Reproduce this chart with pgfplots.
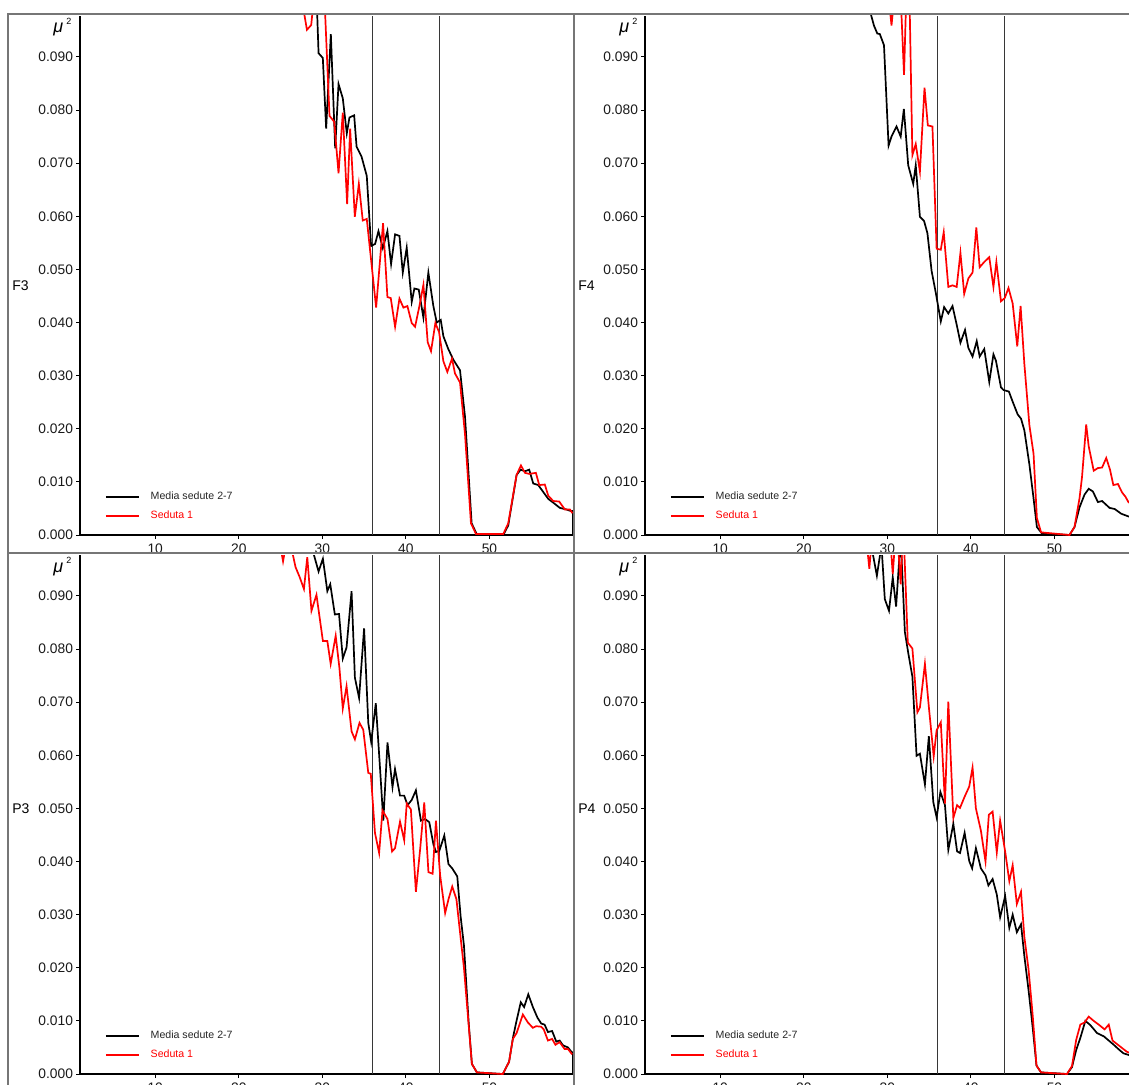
\documentclass[border=0pt]{standalone}
\usepackage{fontspec}
\setmainfont{Liberation Sans}
\usepackage{pgfplots}
\pgfplotsset{compat=1.18}

\definecolor{framegray}{RGB}{118,118,118}
\definecolor{sedred}{RGB}{255,0,0}
\definecolor{bandline}{RGB}{55,55,55}

\pgfplotsset{
  panel/.style={
    scale only axis,
    width=246.5pt, height=259.5pt,
    anchor=south west,
    xmin=1, xmax=60, ymin=0, ymax=0.0977,
    axis x line*=bottom, axis y line*=left,
    axis line style={-, line width=1pt, black},
    xtick={10,20,30,40,50},
    ytick={0,0.01,0.02,0.03,0.04,0.05,0.06,0.07,0.08,0.09},
    tick align=outside,
    major tick length=2pt,
    tick style={black, line width=0.5pt},
    ticklabel style={font=\fontsize{6.9}{8}\selectfont, text=black!90},
    /pgf/number format/assume math mode=true,
    yticklabel style={xshift=2pt, /pgf/number format/fixed, /pgf/number format/fixed zerofill, /pgf/number format/precision=3},
    xticklabel style={yshift=1pt},
    scaled y ticks=false,
    legend style={draw=none, fill=none, at={(0.0507,0.083)}, anchor=north west,
      font=\fontsize{5.3}{6.4}\selectfont, inner sep=0pt, outer sep=0pt, row sep=4.5pt,
      nodes={inner sep=0pt, text height=3.9pt, text depth=1.1pt}},
    legend cell align=left,
    legend image code/.code={\draw[#1] (0pt,0pt) -- (16.5pt,0pt); \path (22pt,0pt);},
  },
  mean/.style={black, line width=0.85pt},
  s1/.style={sedred, line width=0.85pt},
  band/.style={bandline, line width=0.65pt, forget plot},
}

\newcommand{\bands}{%
  \addplot[band] coordinates {(36,0) (36,0.0977)};
  \addplot[band] coordinates {(44,0) (44,0.0977)};
}
\newcommand{\legendtext}{%
  \addlegendentry{\textcolor{black!85}{Media sedute 2-7}}
  \addlegendentry{\textcolor{sedred}{Seduta 1}}
}

\begin{document}
\begin{tikzpicture}
\useasboundingbox (0pt,0pt) rectangle (564.5pt,-542.5pt);
\clip (0pt,0pt) rectangle (564.5pt,-542.5pt);

% ---------------- F3 ----------------
\begin{axis}[panel, at={(40pt,-267.5pt)}]
\bands
\addplot[mean] coordinates {(28,0.118)(29.3,0.102)(29.55,0.0907)(30.06,0.0898)(30.46,0.0765)(31.02,0.0943)(31.54,0.0728)(31.94,0.0849)(32.45,0.0822)(32.93,0.0756)(33.25,0.0786)(33.81,0.0790)(34.1,0.0731)(34.7,0.0712)(35.32,0.0676)(35.84,0.0544)(36.32,0.0548)(36.72,0.0572)(37.24,0.0540)(37.79,0.0572)(38.23,0.0510)(38.71,0.0566)(39.23,0.0563)(39.63,0.0494)(40.10,0.0541)(40.70,0.0439)(41.02,0.0464)(41.54,0.0462)(42.10,0.0409)(42.69,0.0494)(43.29,0.0431)(43.69,0.0400)(44.17,0.0405)(44.49,0.0374)(45.08,0.0350)(45.68,0.0330)(46.48,0.0310)(47.08,0.0222)(47.87,0.0022)(48.47,0.0002)(51.66,0.0000)(52.25,0.0018)(53.25,0.0113)(53.73,0.0123)(54.25,0.0120)(54.76,0.0123)(55.24,0.0097)(55.84,0.0094)(56.44,0.0081)(57.04,0.0068)(57.63,0.0061)(58.43,0.0051)(59.23,0.0048)(59.75,0.0045)(60,0.0045)(60,0)};
\addplot[s1] coordinates {(27.2,0.104)(28.16,0.0951)(28.67,0.0960)(29.3,0.106)(30.3,0.0995)(30.86,0.0789)(31.42,0.0778)(31.94,0.0681)(32.45,0.0795)(32.97,0.0623)(33.33,0.0765)(33.89,0.0599)(34.37,0.0661)(34.84,0.0592)(35.32,0.0595)(36.44,0.0428)(37.27,0.0587)(37.79,0.0448)(38.19,0.0446)(38.71,0.0392)(39.23,0.0445)(39.71,0.0428)(40.18,0.0431)(40.70,0.0399)(41.10,0.0392)(41.62,0.0431)(42.10,0.0471)(42.61,0.0363)(43.01,0.0346)(43.53,0.0399)(43.97,0.0382)(44.49,0.0327)(44.96,0.0307)(45.52,0.0332)(45.88,0.0304)(46.48,0.0287)(47.08,0.0189)(47.79,0.0022)(48.39,0.0002)(51.66,0.0002)(52.25,0.0022)(53.25,0.0113)(53.77,0.0131)(54.25,0.0117)(54.76,0.0115)(55.56,0.0117)(55.96,0.0094)(56.63,0.0095)(57.04,0.0074)(57.63,0.0064)(58.35,0.0063)(59.03,0.0048)(59.63,0.0048)(59.94,0.0041)};
\legendtext
\end{axis}

% ---------------- F4 ----------------
\begin{axis}[panel, at={(322.5pt,-267.5pt)}]
\bands
\addplot[mean] coordinates {(27.6,0.1005)(28.4,0.0959)(28.8,0.0944)(29.1,0.0943)(29.6,0.0922)(30.15,0.0733)(30.5,0.0750)(31.1,0.0769)(31.6,0.0750)(31.98,0.0802)(32.5,0.0696)(33.1,0.0661)(33.4,0.0696)(33.9,0.0599)(34.4,0.0591)(34.8,0.0568)(35.3,0.0497)(35.8,0.0456)(36.4,0.0402)(36.8,0.0429)(37.3,0.0417)(37.8,0.0431)(38.3,0.0396)(38.75,0.0362)(39.3,0.0386)(39.7,0.0352)(40.2,0.0336)(40.7,0.0365)(41.05,0.0336)(41.6,0.0350)(42.2,0.0288)(42.7,0.0340)(43.0,0.0328)(43.6,0.0278)(43.9,0.0273)(44.55,0.0270)(45.0,0.0251)(45.6,0.0227)(46.0,0.0219)(46.4,0.0197)(47.0,0.0133)(47.5,0.0069)(47.9,0.0015)(48.5,0.0003)(51.8,0.0000)(52.4,0.0015)(53.0,0.0052)(53.6,0.0076)(54.1,0.0087)(54.6,0.0082)(55.2,0.0062)(55.7,0.0064)(56.6,0.0051)(57.2,0.0049)(58.0,0.0040)(58.85,0.0035)(59.5,0.0032)(60,0.0030)};
\addplot[s1] coordinates {(29.5,0.108)(30,0.104)(30.5,0.0959)(31,0.104)(31.5,0.1051)(32,0.0866)(32.5,0.1144)(33.0,0.0715)(33.4,0.0736)(33.9,0.0684)(34.45,0.0842)(34.85,0.0771)(35.4,0.0769)(35.9,0.0539)(36.4,0.0537)(36.75,0.0570)(37.3,0.0467)(37.8,0.0470)(38.3,0.0467)(38.75,0.0531)(39.2,0.0454)(39.7,0.0483)(40.2,0.0494)(40.65,0.0579)(41.05,0.0504)(41.6,0.0514)(42.2,0.0523)(42.7,0.0467)(43.05,0.0514)(43.6,0.0440)(44.05,0.0446)(44.5,0.0465)(45.0,0.0436)(45.55,0.0355)(45.95,0.0431)(46.4,0.0322)(47.0,0.0207)(47.5,0.0153)(47.9,0.0032)(48.4,0.0005)(51.8,0.0000)(52.4,0.0015)(53.0,0.0069)(53.3,0.0109)(53.8,0.0208)(54.1,0.0167)(54.7,0.0121)(55.2,0.0126)(55.7,0.0127)(56.2,0.0145)(56.65,0.0123)(57.05,0.0094)(57.6,0.0096)(58.1,0.0080)(58.5,0.0072)(58.85,0.0062)(59.5,0.0055)(60,0.0050)};
\legendtext
\end{axis}

% ---------------- P3 ----------------
\begin{axis}[panel, at={(40pt,-537pt)}]
\bands
\addplot[mean] coordinates {(28.5,0.1005)(29.55,0.0946)(30.07,0.0970)(30.6,0.0909)(30.95,0.0922)(31.5,0.0865)(32.0,0.0866)(32.45,0.0782)(32.9,0.0803)(33.5,0.0909)(33.9,0.0746)(34.4,0.0708)(35.0,0.0839)(35.5,0.0661)(35.85,0.0625)(36.4,0.0698)(36.9,0.0577)(37.3,0.0477)(37.8,0.0624)(38.4,0.0540)(38.7,0.0574)(39.3,0.0524)(39.8,0.0524)(40.2,0.0506)(40.7,0.0516)(41.2,0.0534)(41.8,0.0477)(42.3,0.0480)(42.8,0.0474)(43.3,0.0432)(43.6,0.0418)(44.0,0.0420)(44.6,0.0449)(45.1,0.0395)(45.55,0.0387)(46.15,0.0372)(46.55,0.0297)(46.95,0.0242)(47.5,0.0100)(47.9,0.0019)(48.5,0.0003)(51.6,0.0000)(52.35,0.0023)(52.85,0.0071)(53.2,0.0097)(53.75,0.0135)(54.15,0.0126)(54.65,0.0150)(55.2,0.0126)(55.75,0.0106)(56.2,0.0095)(56.6,0.0093)(57.0,0.0079)(57.5,0.0081)(58.0,0.0061)(58.4,0.0063)(58.8,0.0054)(59.4,0.0050)(59.8,0.0042)(60,0.0040)(60,0)};
\addplot[s1] coordinates {(24.8,0.1010)(25.3,0.0965)(25.8,0.1010)(26.3,0.0990)(26.8,0.0954)(27.3,0.0935)(27.8,0.0913)(28.2,0.0973)(28.7,0.0872)(29.3,0.0902)(30.07,0.0815)(30.6,0.0815)(31.0,0.0772)(31.6,0.0825)(32.05,0.0764)(32.45,0.0688)(32.9,0.0730)(33.5,0.0645)(33.9,0.0630)(34.45,0.0661)(34.9,0.0648)(35.5,0.0567)(35.8,0.0565)(36.3,0.0454)(36.8,0.0416)(37.2,0.0496)(37.8,0.0480)(38.35,0.0419)(38.7,0.0425)(39.3,0.0475)(39.8,0.0440)(40.1,0.0509)(40.6,0.0498)(41.2,0.0343)(41.7,0.0422)(42.2,0.0511)(42.7,0.0380)(43.2,0.0377)(43.6,0.0477)(44.1,0.0374)(44.7,0.0303)(45.1,0.0329)(45.55,0.0353)(46.05,0.0329)(46.5,0.0264)(46.95,0.0200)(47.9,0.0019)(48.5,0.0003)(51.6,0.0000)(52.35,0.0023)(52.8,0.0066)(53.25,0.0077)(54.0,0.0112)(54.6,0.0097)(55.2,0.0087)(55.6,0.0090)(56.2,0.0089)(56.5,0.0084)(57.0,0.0063)(57.5,0.0066)(57.9,0.0055)(58.4,0.0060)(59.0,0.0047)(59.4,0.0047)(59.9,0.0037)};
\legendtext
\end{axis}

% ---------------- P4 ----------------
\begin{axis}[panel, at={(322.5pt,-537pt)}]
\bands
\addplot[mean] coordinates {(27.9,0.1010)(28.75,0.0938)(29.3,0.0995)(29.7,0.0894)(30.2,0.0872)(30.65,0.0935)(31.05,0.0880)(31.6,0.1010)(32.1,0.0832)(32.5,0.0793)(33.0,0.0748)(33.5,0.0599)(33.9,0.0603)(34.5,0.0545)(34.97,0.0636)(35.5,0.0512)(35.9,0.0483)(36.35,0.0531)(36.9,0.0506)(37.3,0.0422)(37.9,0.0471)(38.35,0.0419)(38.7,0.0416)(39.25,0.0454)(39.8,0.0401)(40.15,0.0387)(40.6,0.0425)(41.2,0.0387)(41.75,0.0374)(42.1,0.0355)(42.6,0.0367)(43.1,0.0338)(43.5,0.0295)(44.1,0.0335)(44.6,0.0275)(45.0,0.0300)(45.5,0.0267)(46.0,0.0282)(46.4,0.0222)(46.9,0.0158)(47.4,0.0087)(47.85,0.0016)(48.4,0.0003)(51.5,0.0000)(52.1,0.0013)(52.6,0.0045)(53.1,0.0068)(53.7,0.0100)(54.3,0.0092)(55.1,0.0077)(55.9,0.0071)(56.5,0.0063)(57.1,0.0055)(57.65,0.0047)(58.25,0.0039)(58.65,0.0037)(59.3,0.0034)(60,0.0031)};
\addplot[s1] coordinates {(27.4,0.1020)(27.85,0.0951)(28.3,0.1040)(30.2,0.1040)(30.65,0.0941)(31.1,0.1040)(31.6,0.0922)(31.9,0.1040)(32.45,0.0812)(33.0,0.0801)(33.6,0.0681)(33.9,0.0690)(34.5,0.0772)(35.0,0.0686)(35.55,0.0598)(35.9,0.0647)(36.4,0.0662)(36.9,0.0509)(37.3,0.0701)(37.9,0.0482)(38.35,0.0506)(38.7,0.0501)(39.25,0.0522)(39.8,0.0541)(40.2,0.0577)(40.6,0.0500)(41.2,0.0458)(41.75,0.0400)(42.15,0.0488)(42.6,0.0494)(43.1,0.0417)(43.5,0.0477)(44.1,0.0419)(44.6,0.0363)(45.0,0.0393)(45.5,0.0320)(46.0,0.0343)(46.4,0.0258)(46.9,0.0197)(47.4,0.0110)(47.85,0.0016)(48.4,0.0003)(51.5,0.0000)(52.1,0.0015)(52.6,0.0064)(53.1,0.0093)(53.6,0.0097)(54.1,0.0108)(54.7,0.0100)(55.3,0.0093)(56.0,0.0084)(56.5,0.0093)(56.95,0.0063)(57.6,0.0055)(58.25,0.0047)(58.65,0.0042)(59.3,0.0038)(60,0.0034)};
\legendtext
\end{axis}

% panel frames
\draw[framegray, line width=1.2pt] (4pt,-7pt) rectangle (287pt,-276.5pt);
\draw[framegray, line width=1.2pt] (287pt,-7pt) rectangle (570pt,-276.5pt);
\draw[framegray, line width=1.2pt] (4pt,-276.5pt) rectangle (287pt,-546pt);
\draw[framegray, line width=1.2pt] (287pt,-276.5pt) rectangle (570pt,-546pt);

% channel names
\node[anchor=west, font=\fontsize{7}{8}\selectfont, inner sep=0pt] at (6pt,-143pt) {F3};
\node[anchor=west, font=\fontsize{7}{8}\selectfont, inner sep=0pt] at (289pt,-143pt) {F4};
\node[anchor=west, font=\fontsize{7}{8}\selectfont, inner sep=0pt] at (6pt,-404.5pt) {P3};
\node[anchor=west, font=\fontsize{7}{8}\selectfont, inner sep=0pt] at (289pt,-404.5pt) {P4};

% unit labels
\newcommand{\unitlabel}{\textit{μ}\,\raisebox{0.9ex}{\fontsize{4.5}{5}\selectfont 2}}
\node[anchor=base west, font=\fontsize{9}{10}\selectfont, inner sep=0pt] at (26.5pt,-16.5pt) {\unitlabel};
\node[anchor=base west, font=\fontsize{9}{10}\selectfont, inner sep=0pt] at (309.5pt,-16.5pt) {\unitlabel};
\node[anchor=base west, font=\fontsize{9}{10}\selectfont, inner sep=0pt] at (26.5pt,-286pt) {\unitlabel};
\node[anchor=base west, font=\fontsize{9}{10}\selectfont, inner sep=0pt] at (309.5pt,-286pt) {\unitlabel};
\end{tikzpicture}
\end{document}
